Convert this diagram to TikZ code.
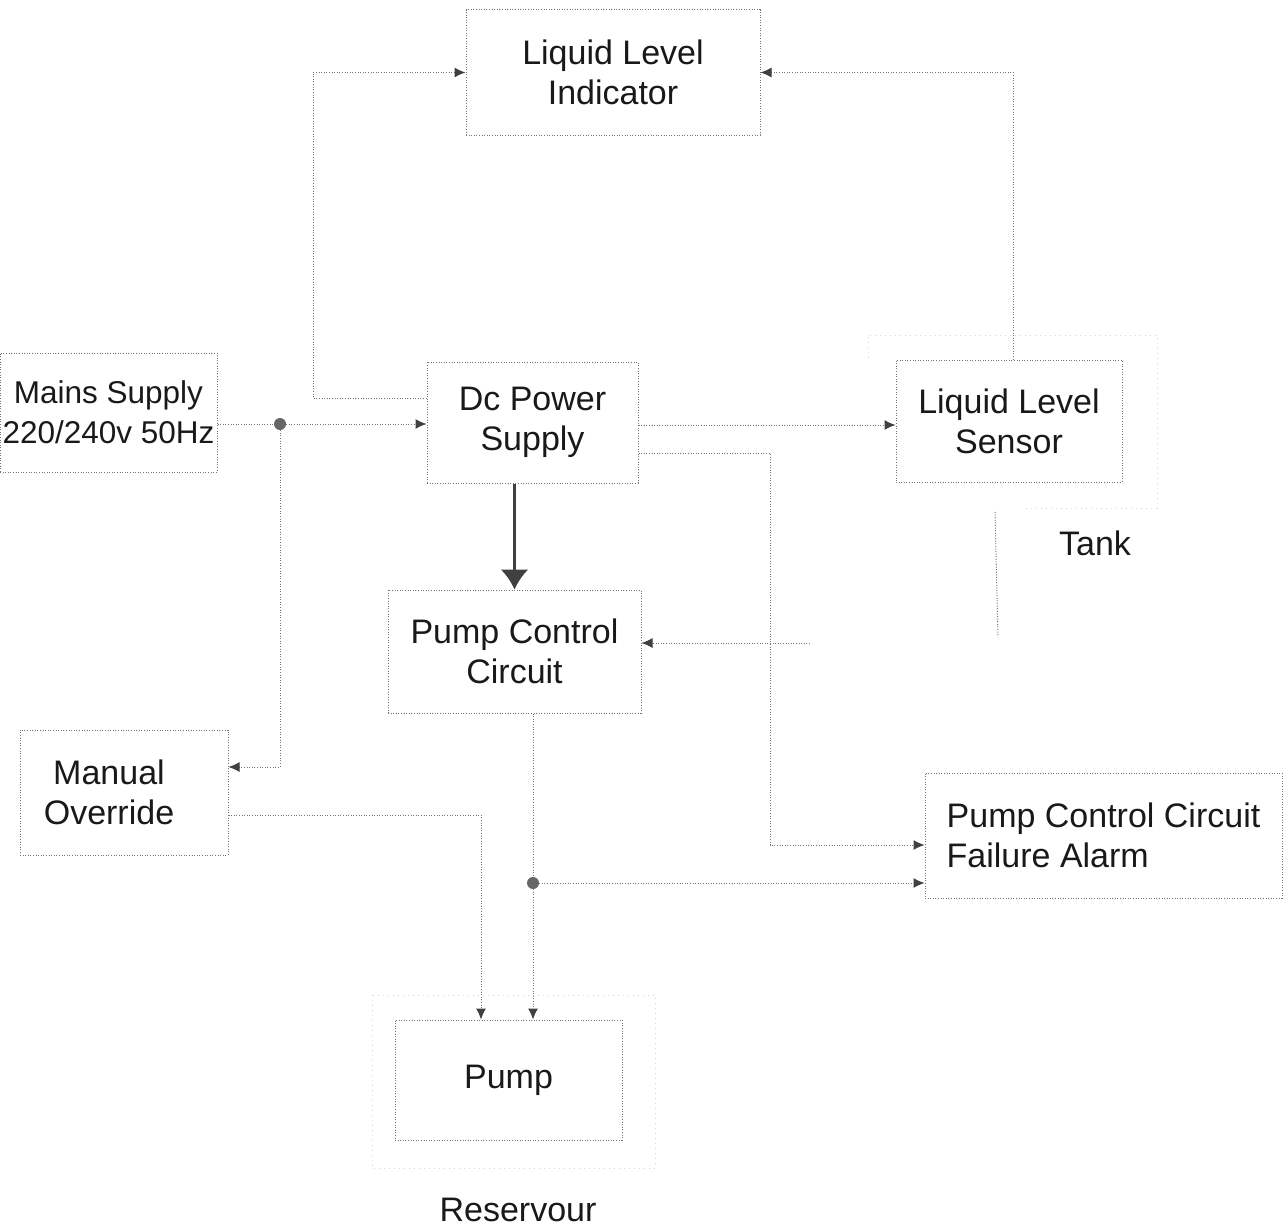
\documentclass[tikz,border=0pt]{standalone}
\usepackage{fontspec}
\setmainfont{Liberation Sans}
\usepackage{tikz}
\usetikzlibrary{arrows.meta,calc}

\begin{document}
\begin{tikzpicture}[x=1pt,y=-1pt,
    block/.style={draw=black!55, dash pattern=on 1pt off 1.6pt, line width=1pt, text=black!90, align=center, font=\fontsize{34}{40}\selectfont, inner sep=0pt},
    wire/.style={draw=black!55, dash pattern=on 1pt off 1.6pt, line width=1pt},
    link/.style={wire, -{Latex[length=11pt,width=10pt,color=black!75]}},
    power/.style={draw=black!75, line width=3pt, -{Latex[length=20pt,width=28pt]}},
    faint/.style={draw=gray!35, dash pattern=on 1pt off 4pt, line width=1pt},
    junction/.style={circle, fill=black!60, inner sep=0pt, minimum size=12pt},
    caption/.style={text=black!90, font=\fontsize{34}{40}\selectfont}]

    \useasboundingbox (0,0) rectangle (1285,1231);

    \node [block, minimum width=294pt, minimum height=125pt] (indicator) at (613,72.5) {Liquid Level\\Indicator};
    \node [block, minimum width=217pt, minimum height=119pt, font=\fontsize{31.5}{40}\selectfont] (mains) at (108.5,412.5) {Mains Supply\\220/240v 50Hz};
    \node [block, minimum width=211pt, minimum height=121pt] (dc) at (532.5,422.5) {Dc Power\\Supply};
    \node [block, minimum width=226pt, minimum height=122pt] (sensor) at (1009,421) {Liquid Level\\Sensor};
    \node [block, minimum width=253pt, minimum height=123pt] (pcc) at (514.5,651.5) {Pump Control\\Circuit};
    \node [block, minimum width=208pt, minimum height=125pt] (manual) at (124,792.5) {Manual\hspace*{30pt}\\Override\hspace*{30pt}};
    \node [block, minimum width=357pt, minimum height=125pt, align=left] (alarm) at (1103.5,835.5) {Pump Control Circuit\\Failure Alarm};
    \node [block, minimum width=227pt, minimum height=120pt] (pump) at (508.5,1080) {Pump};
    \node [caption] (tank) at (1095,543) {Tank};
    \node [caption] (reservoir) at (518,1210) {Reservour};

    \node [junction] (j1) at (280,424) {};
    \node [junction] (j2) at (533,883) {};
    \coordinate (up) at (313,72.5);
    \coordinate (bend) at (770,845);
    \coordinate (fb) at (810,643);

    % tank and reservoir outlines
    \draw [faint] (868,358) -- (868,335) -- (1157,335) -- (1157,508) -- (1023,508);
    \draw [wire] (995,512) -- (998,637);
    \draw [faint] (372,995) rectangle (655,1168);

    \draw [wire] (mains.east |- j1) -- (j1);
    \draw [link] (j1) -- (j1 -| dc.west);
    \draw [link] (j1) |- ([yshift=25.5pt]manual.east);
    \draw [link] ([yshift=24.5pt]dc.west) -| (up) -- (indicator.west);
    \draw [link] ([yshift=-2.5pt]dc.east) -- ([yshift=-4pt]sensor.west);
    \draw [link] ([yshift=-30.5pt]dc.east) -| (bend) -- (bend -| alarm.west);
    \draw [link] ([xshift=4pt]sensor.north) |- (indicator.east);
    \draw [power] (pcc.north |- dc.south) -- (pcc.north);
    \draw [link] (fb) -- (fb -| pcc.east);
    \draw [wire] (pcc.south -| j2) -- (j2);
    \draw [link] (j2) -- (j2 |- pump.north);
    \draw [link] (j2) -- (j2 -| alarm.west);
    \draw [link] ([yshift=-22.5pt]manual.east) -| ([xshift=-27.5pt]pump.north);
\end{tikzpicture}
\end{document}
